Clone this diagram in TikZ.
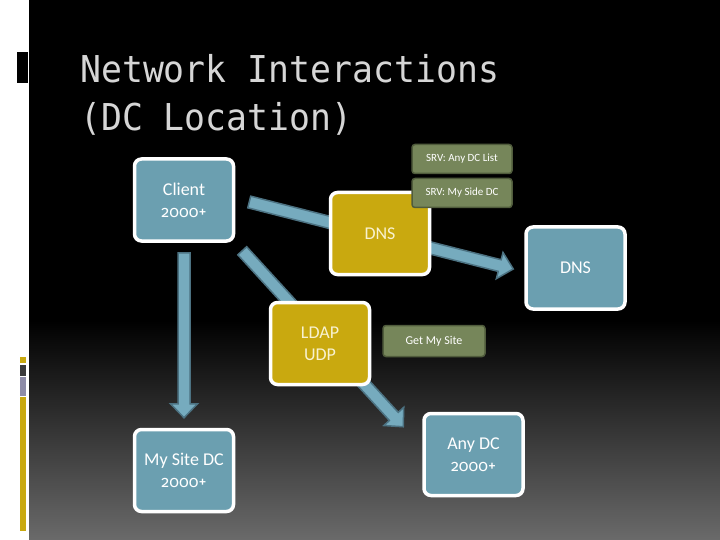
\documentclass[tikz,border=0pt]{standalone}
\usepackage{fontspec}
\setmainfont{Carlito}
\newfontfamily\titlefont{DejaVu Sans Mono}[FakeStretch=0.94]
\newfontfamily\oldnum{Fira Sans}[Numbers=OldStyle]
\usetikzlibrary{calc}

\definecolor{dcteal}{HTML}{6B9FB0}
\definecolor{dcgold}{HTML}{C9A90F}
\definecolor{dcolive}{HTML}{76865A}
\definecolor{dcoliveline}{HTML}{505C3C}
\definecolor{arrowfill}{HTML}{76ABBE}
\definecolor{arrowline}{HTML}{4C7282}
\definecolor{titlegray}{HTML}{D6D6D6}
\definecolor{goldtext}{HTML}{F8F2D0}
\definecolor{bggray}{HTML}{6A6A6A}
\definecolor{markdark}{HTML}{3A3A3A}
\definecolor{marklilac}{HTML}{8E8CA8}

\newcommand\version{{\oldnum\fontsize{16}{22}\selectfont 2000+}}

\tikzset{
  box/.style={draw=white, line width=3.5pt, rounded corners=7pt,
    minimum width=99pt, minimum height=82pt, inner sep=0pt,
    align=center, font=\fontsize{18}{22}\selectfont},
  serverbox/.style={box, fill=dcteal, text=white},
  protobox/.style={box, fill=dcgold, text=goldtext},
  recordbox/.style={draw=dcoliveline, line width=1.5pt, fill=dcolive,
    rounded corners=3pt, text=white, minimum width=100pt,
    minimum height=29pt, font=\fontsize{11}{13}\selectfont},
  title/.style={text=titlegray, inner sep=0pt,
    font=\titlefont\fontsize{37}{48}\selectfont},
  arrowbody/.style={fill=arrowfill, draw=arrowline, line width=1.5pt},
}

% block arrow from #1 to the tip #2
\newcommand\dcarrow[2]{%
  \coordinate (#1h) at ($(#2)!14pt!(#1)$);
  \filldraw[arrowbody] ($(#1)!6pt!90:(#2)$) -- ($(#1h)!6pt!-90:(#1)$)
    -- ($(#1h)!13.5pt!-90:(#1)$) -- (#2) -- ($(#1h)!13.5pt!90:(#1)$)
    -- ($(#1h)!6pt!90:(#1)$) -- ($(#1)!6pt!-90:(#2)$) -- cycle;}

\begin{document}
\begin{tikzpicture}[x=1pt,y=-1pt]

% Page and background:
\useasboundingbox (0,0) rectangle (720,540);
\fill[white] (0,0) rectangle (720,540);
\fill[black] (29,0) rectangle (720,540);
\shade[top color=black, bottom color=bggray] (29,320) rectangle (720,540);
% Side marks:
\fill[black] (17,52) rectangle (28,83);
\fill[dcgold] (20,357) rectangle (26,363);
\fill[markdark] (20,365) rectangle (26,376);
\fill[marklilac] (20,377) rectangle (26,396);
\fill[dcgold] (20,397) rectangle (26,531);

% Title:
\node[title, anchor=base west] (title) at (80,83) {Network Interactions};
\node[title, anchor=base west] (subtitle) at (80,131) {(DC Location)};

% Servers:
\node[serverbox] (client) at (184,200) {Client\\\version};
\node[serverbox] (dnsr) at (575.5,268) {DNS};
\node[serverbox] (mysite) at (184,470.5) {My Site DC\\\version};
\node[serverbox] (anydc) at (473.5,454.5) {Any DC\\\version};

% Arrows, behind the protocol boxes:
\coordinate (a1s) at ($(client.east)+(14,2)$);
\coordinate (a1e) at ($(dnsr.west)+(-11,1)$);
\coordinate (a2s) at ($(client.south)+(0,10)$);
\coordinate (a2e) at ($(mysite.north)+(0,-10)$);
\coordinate (a3s) at ($(client.south east)+(7,8)$);
\coordinate (a3e) at ($(anydc.north west)+(-19,15)$);
\dcarrow{a1s}{a1e}
\dcarrow{a2s}{a2e}
\dcarrow{a3s}{a3e}

% Protocols:
\node[protobox] (dns) at (380,233.5) {DNS};
\node[protobox] (ldap) at (320,343.5) {LDAP\\UDP};

% Records:
\node[recordbox] (srvany) at (462,159) {SRV: Any DC List};
\node[recordbox] (srvsite) at (462,193) {SRV: My Side DC};
\node[recordbox, minimum width=102pt, minimum height=31pt,
  font=\fontsize{12}{14}\selectfont] (getsite) at (434,341) {Get My Site};

\end{tikzpicture}
\end{document}
